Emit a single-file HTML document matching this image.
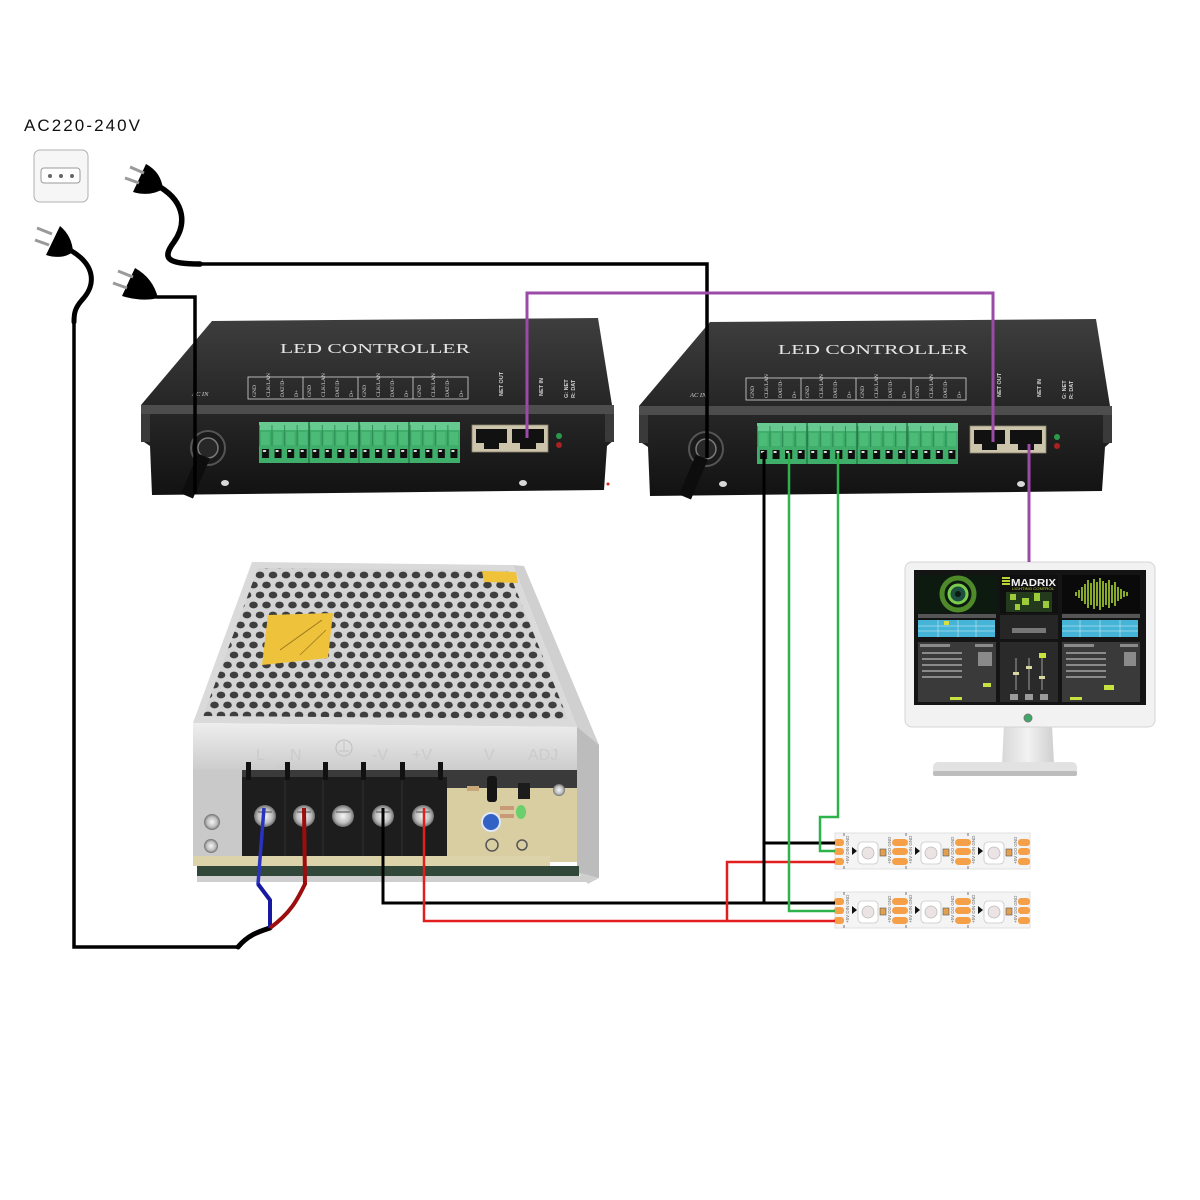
<!DOCTYPE html>
<html><head><meta charset="utf-8">
<style>html,body{margin:0;padding:0;background:#fff}svg{display:block}</style>
</head>
<body>
<svg width="1200" height="1200" viewBox="0 0 1200 1200" xmlns="http://www.w3.org/2000/svg">
<defs>
  <linearGradient id="topg" x1="0" y1="0" x2="0" y2="1"><stop offset="0" stop-color="#3e3e3e"/><stop offset="1" stop-color="#262626"/></linearGradient>
  <linearGradient id="frontg" x1="0" y1="0" x2="0" y2="1"><stop offset="0" stop-color="#262626"/><stop offset="1" stop-color="#121212"/></linearGradient>
  <pattern id="perf" width="13" height="20" patternUnits="userSpaceOnUse">
    <rect width="13" height="20" fill="#d4d4d4"/>
    <ellipse cx="6.5" cy="5" rx="4.3" ry="3.4" fill="#3e3e3e"/>
    <ellipse cx="0" cy="15" rx="4.3" ry="3.4" fill="#3e3e3e"/>
    <ellipse cx="13" cy="15" rx="4.3" ry="3.4" fill="#3e3e3e"/>
  </pattern>
  <pattern id="term" x="259" y="422" width="12.5625" height="41" patternUnits="userSpaceOnUse">
    <rect width="12.5625" height="41" fill="#3fae6a"/>
    <rect width="12.5625" height="8" fill="#66c98f"/>
    <line x1="0.4" y1="3" x2="0.4" y2="24" stroke="#2b8552" stroke-width="0.9"/>
    <rect x="2" y="10" width="8.5" height="13" fill="#4dbb78"/>
    <rect x="3" y="27" width="7" height="9" fill="#0e0e0e"/>
    <rect x="4" y="28" width="3" height="2" fill="#e0e0e0"/>
  </pattern>
  <linearGradient id="silver" x1="0" y1="0" x2="0" y2="1"><stop offset="0" stop-color="#eeeeee"/><stop offset="1" stop-color="#cacaca"/></linearGradient>
  <radialGradient id="screw"><stop offset="0" stop-color="#f6f6f6"/><stop offset="0.65" stop-color="#bdbdbd"/><stop offset="1" stop-color="#6e6e6e"/></radialGradient>
  <linearGradient id="neck" x1="0" y1="0" x2="1" y2="0"><stop offset="0" stop-color="#d8d8d8"/><stop offset="0.5" stop-color="#f2f2f2"/><stop offset="1" stop-color="#cfcfcf"/></linearGradient>
</defs>
<rect width="1200" height="1200" fill="#fff"/>

<!-- AC label and outlet -->
<text x="24" y="131" font-family="Liberation Sans, sans-serif" font-size="17" fill="#111" textLength="116" lengthAdjust="spacing">AC220-240V</text>
<rect x="34" y="150" width="54" height="52" rx="6" fill="#f6f6f6" stroke="#b0b0b0" stroke-width="1"/>
<rect x="41" y="168" width="39" height="15" rx="3" fill="#fff" stroke="#9a9a9a" stroke-width="1"/>
<circle cx="50" cy="176" r="2" fill="#666"/><circle cx="61" cy="176" r="2" fill="#666"/><circle cx="72" cy="176" r="2" fill="#666"/>

<!-- ================= POWER SUPPLY ================= -->
<g>
  <polygon points="513,565 524,566 599,745 599,878 588,884 577,872 577,727" fill="#d0d0d0"/>
  <polygon points="577,727 599,745 599,878 577,872" fill="#bcbcbc"/>
  <polygon points="252,562 513,565 577,727 193,723" fill="#dadada"/>
  <polygon points="258,568 508,570 568,719 203,716" fill="url(#perf)"/>
  <polygon points="268,615 333,613 328,658 262,665" fill="#efc23c"/>
  <line x1="280" y1="650" x2="322" y2="620" stroke="#9a7a20" stroke-width="1"/>
  <line x1="300" y1="655" x2="326" y2="630" stroke="#9a7a20" stroke-width="0.8"/>
  <polygon points="482,571 516,572 518,583 484,582" fill="#f0c23a"/>
  <!-- front face -->
  <polygon points="193,723 577,727 577,773 193,770" fill="url(#silver)"/>
  <g font-family="Liberation Sans, sans-serif" font-size="16" fill="#cbcbcb">
    <text x="256" y="760">L</text><text x="290" y="760">N</text>
    <text x="274" y="770" font-size="8">(AC)</text>
    <text x="372" y="760">-V</text><text x="412" y="760">+V</text>
    <text x="484" y="760">V</text><text x="528" y="760">ADJ</text>
  </g>
  <circle cx="344" cy="748" r="8" fill="none" stroke="#c4c4c4" stroke-width="1.3"/>
  <line x1="344" y1="741" x2="344" y2="750" stroke="#c4c4c4"/><line x1="339" y1="751" x2="349" y2="751" stroke="#c4c4c4"/>
  <!-- below front -->
  <rect x="193" y="770" width="384" height="92" fill="#3a3a3a"/>
  <polygon points="193,770 242,770 242,858 197,862 193,860" fill="#c9c9c9"/>
  <circle cx="212" cy="822" r="8" fill="url(#screw)"/>
  <circle cx="211" cy="846" r="7" fill="url(#screw)"/>
  <rect x="447" y="788" width="130" height="74" fill="#d8cea2"/>
  <rect x="487" y="776" width="10" height="26" rx="3" fill="#151515"/>
  <rect x="518" y="783" width="12" height="16" fill="#1c1c1c"/>
  <rect x="467" y="786" width="12" height="5" fill="#c8a878"/>
  <circle cx="491" cy="822" r="9" fill="#3262c4" stroke="#dfe6f6" stroke-width="2"/>
  <ellipse cx="521" cy="812" rx="5" ry="7" fill="#6bd06b"/>
  <rect x="500" y="806" width="14" height="4" fill="#c89a78"/>
  <rect x="500" y="814" width="14" height="4" fill="#c89a78"/>
  <circle cx="492" cy="845" r="6" fill="none" stroke="#555" stroke-width="1.5"/>
  <circle cx="522" cy="845" r="5" fill="none" stroke="#555" stroke-width="1.5"/>
  <circle cx="559" cy="790" r="6" fill="url(#screw)"/>
  <!-- terminal block -->
  <rect x="242" y="777" width="205" height="80" fill="#1d1d1d"/>
  <g fill="#111">
    <rect x="246" y="762" width="5" height="18"/><rect x="285" y="762" width="5" height="18"/>
    <rect x="323" y="762" width="5" height="18"/><rect x="361" y="762" width="5" height="18"/>
    <rect x="400" y="762" width="5" height="18"/><rect x="438" y="762" width="5" height="18"/>
  </g>
  <g stroke="#2e2e2e" stroke-width="1.2">
    <line x1="285" y1="780" x2="285" y2="857"/><line x1="323" y1="780" x2="323" y2="857"/>
    <line x1="363" y1="780" x2="363" y2="857"/><line x1="402" y1="780" x2="402" y2="857"/>
  </g>
  <g>
    <circle cx="265" cy="816" r="11" fill="url(#screw)"/><circle cx="304" cy="816" r="11" fill="url(#screw)"/>
    <circle cx="343" cy="816" r="11" fill="url(#screw)"/><circle cx="383" cy="816" r="11" fill="url(#screw)"/>
    <circle cx="423" cy="816" r="11" fill="url(#screw)"/>
  </g>
  <g stroke="#777" stroke-width="1.5">
    <line x1="258" y1="812" x2="272" y2="812"/><line x1="297" y1="812" x2="311" y2="812"/>
    <line x1="336" y1="812" x2="350" y2="812"/><line x1="376" y1="812" x2="390" y2="812"/>
    <line x1="416" y1="812" x2="430" y2="812"/>
  </g>
  <rect x="193" y="856" width="357" height="10" fill="#ddd3aa"/>
  <rect x="197" y="866" width="382" height="10" fill="#31473a"/>
  <rect x="197" y="876" width="392" height="6" fill="#cfcfcf"/>
</g>

<!-- ================= CONTROLLER 1 ================= -->
<g id="ctrl1">
  <polygon points="212,321 598,318 612,405 141,405" fill="url(#topg)"/>
  <polygon points="141,405 614,405 614,414 141,414" fill="#4d4d4d"/>
  <path d="M141,414 L614,414 L614,440 L607,446 L604,490 L152,495 L150,446 L141,440 Z" fill="url(#frontg)"/>
  <rect x="141" y="414" width="9" height="28" fill="#3a3a3a"/>
  <rect x="605" y="414" width="9" height="28" fill="#3a3a3a"/>
  <text x="280" y="353" font-family="Liberation Serif, serif" font-size="14" fill="#e6e6e6" textLength="190" lengthAdjust="spacingAndGlyphs">LED CONTROLLER</text>
  <rect x="248" y="377" width="220" height="22" fill="none" stroke="#d8d8d8" stroke-width="0.8"/>
  <g stroke="#d8d8d8" stroke-width="0.8"><line x1="303" y1="377" x2="303" y2="399"/><line x1="358" y1="377" x2="358" y2="399"/><line x1="413" y1="377" x2="413" y2="399"/></g>
  <g font-family="Liberation Serif, serif" font-size="5.5" fill="#dcdcdc">
    <text transform="translate(256,397) rotate(-90)">GND</text><text transform="translate(270,397) rotate(-90)">CLK/LAN</text><text transform="translate(284,397) rotate(-90)">DAT/D-</text><text transform="translate(298,397) rotate(-90)">D+</text>
    <text transform="translate(311,397) rotate(-90)">GND</text><text transform="translate(325,397) rotate(-90)">CLK/LAN</text><text transform="translate(339,397) rotate(-90)">DAT/D-</text><text transform="translate(353,397) rotate(-90)">D+</text>
    <text transform="translate(366,397) rotate(-90)">GND</text><text transform="translate(380,397) rotate(-90)">CLK/LAN</text><text transform="translate(394,397) rotate(-90)">DAT/D-</text><text transform="translate(408,397) rotate(-90)">D+</text>
    <text transform="translate(421,397) rotate(-90)">GND</text><text transform="translate(435,397) rotate(-90)">CLK/LAN</text><text transform="translate(449,397) rotate(-90)">DAT/D-</text><text transform="translate(463,397) rotate(-90)">D+</text>
  </g>
  <text x="192" y="396" font-family="Liberation Serif, serif" font-size="6.5" font-style="italic" fill="#cfcfcf">AC IN</text>
  <g font-family="Liberation Sans, sans-serif" font-size="5.5" font-weight="bold" fill="#d0d0d0">
    <text transform="translate(503,396) rotate(-90)">NET OUT</text>
    <text transform="translate(543,396) rotate(-90)">NET IN</text>
    <text transform="translate(568,398) rotate(-90)">G: NET</text>
    <text transform="translate(575,398) rotate(-90)">R: DAT</text>
  </g>
  <!-- terminal -->
  <rect x="259" y="422" width="201" height="41" fill="url(#term)"/>
  <g stroke="#257a48" stroke-width="1.5"><line x1="309" y1="422" x2="309" y2="463"/><line x1="359" y1="422" x2="359" y2="463"/><line x1="409" y1="422" x2="409" y2="463"/></g>
  <!-- RJ45 -->
  <rect x="472" y="425" width="76" height="27" fill="#cdc4ac" stroke="#8a826e" stroke-width="0.8"/>
  <path d="M476,429 H507 V443 H499 V449 H484 V443 H476 Z" fill="#111"/>
  <path d="M512,429 H544 V443 H536 V449 H520 V443 H512 Z" fill="#111"/>
  <circle cx="559" cy="436" r="3" fill="#2a9a4a"/>
  <circle cx="559" cy="445" r="3" fill="#a82222"/>
  <!-- gland -->
  <circle cx="208" cy="448" r="17" fill="#1a1a1a" stroke="#555" stroke-width="2"/>
  <circle cx="208" cy="448" r="10" fill="#272727" stroke="#7a7a7a" stroke-width="1.5"/>
  <line x1="204" y1="456" x2="187" y2="496" stroke="#0d0d0d" stroke-width="13"/>
  <ellipse cx="225" cy="483" rx="4" ry="3" fill="#d8d8d8"/>
  <ellipse cx="523" cy="483" rx="4" ry="3" fill="#d8d8d8"/>
</g>
<circle cx="608" cy="484" r="1.5" fill="#d22"/>

<!-- ================= CONTROLLER 2 ================= -->
<g transform="translate(498,1)">
  <polygon points="212,321 598,318 612,405 141,405" fill="url(#topg)"/>
  <polygon points="141,405 614,405 614,414 141,414" fill="#4d4d4d"/>
  <path d="M141,414 L614,414 L614,440 L607,446 L604,490 L152,495 L150,446 L141,440 Z" fill="url(#frontg)"/>
  <rect x="141" y="414" width="9" height="28" fill="#3a3a3a"/>
  <rect x="605" y="414" width="9" height="28" fill="#3a3a3a"/>
  <text x="280" y="353" font-family="Liberation Serif, serif" font-size="14" fill="#e6e6e6" textLength="190" lengthAdjust="spacingAndGlyphs">LED CONTROLLER</text>
  <rect x="248" y="377" width="220" height="22" fill="none" stroke="#d8d8d8" stroke-width="0.8"/>
  <g stroke="#d8d8d8" stroke-width="0.8"><line x1="303" y1="377" x2="303" y2="399"/><line x1="358" y1="377" x2="358" y2="399"/><line x1="413" y1="377" x2="413" y2="399"/></g>
  <g font-family="Liberation Serif, serif" font-size="5.5" fill="#dcdcdc">
    <text transform="translate(256,397) rotate(-90)">GND</text><text transform="translate(270,397) rotate(-90)">CLK/LAN</text><text transform="translate(284,397) rotate(-90)">DAT/D-</text><text transform="translate(298,397) rotate(-90)">D+</text>
    <text transform="translate(311,397) rotate(-90)">GND</text><text transform="translate(325,397) rotate(-90)">CLK/LAN</text><text transform="translate(339,397) rotate(-90)">DAT/D-</text><text transform="translate(353,397) rotate(-90)">D+</text>
    <text transform="translate(366,397) rotate(-90)">GND</text><text transform="translate(380,397) rotate(-90)">CLK/LAN</text><text transform="translate(394,397) rotate(-90)">DAT/D-</text><text transform="translate(408,397) rotate(-90)">D+</text>
    <text transform="translate(421,397) rotate(-90)">GND</text><text transform="translate(435,397) rotate(-90)">CLK/LAN</text><text transform="translate(449,397) rotate(-90)">DAT/D-</text><text transform="translate(463,397) rotate(-90)">D+</text>
  </g>
  <text x="192" y="396" font-family="Liberation Serif, serif" font-size="6.5" font-style="italic" fill="#cfcfcf">AC IN</text>
  <g font-family="Liberation Sans, sans-serif" font-size="5.5" font-weight="bold" fill="#d0d0d0">
    <text transform="translate(503,396) rotate(-90)">NET OUT</text>
    <text transform="translate(543,396) rotate(-90)">NET IN</text>
    <text transform="translate(568,398) rotate(-90)">G: NET</text>
    <text transform="translate(575,398) rotate(-90)">R: DAT</text>
  </g>
  <rect x="259" y="422" width="201" height="41" fill="url(#term)"/>
  <g stroke="#257a48" stroke-width="1.5"><line x1="309" y1="422" x2="309" y2="463"/><line x1="359" y1="422" x2="359" y2="463"/><line x1="409" y1="422" x2="409" y2="463"/></g>
  <rect x="472" y="425" width="76" height="27" fill="#cdc4ac" stroke="#8a826e" stroke-width="0.8"/>
  <path d="M476,429 H507 V443 H499 V449 H484 V443 H476 Z" fill="#111"/>
  <path d="M512,429 H544 V443 H536 V449 H520 V443 H512 Z" fill="#111"/>
  <circle cx="559" cy="436" r="3" fill="#2a9a4a"/>
  <circle cx="559" cy="445" r="3" fill="#a82222"/>
  <circle cx="208" cy="448" r="17" fill="#1a1a1a" stroke="#555" stroke-width="2"/>
  <circle cx="208" cy="448" r="10" fill="#272727" stroke="#7a7a7a" stroke-width="1.5"/>
  <line x1="204" y1="456" x2="187" y2="496" stroke="#0d0d0d" stroke-width="13"/>
  <ellipse cx="225" cy="483" rx="4" ry="3" fill="#d8d8d8"/>
  <ellipse cx="523" cy="483" rx="4" ry="3" fill="#d8d8d8"/>
</g>

<!-- ================= MONITOR ================= -->
<g>
  <polygon points="1004,725 1052,725 1054,764 1002,764" fill="url(#neck)"/>
  <rect x="933" y="762" width="144" height="14" rx="5" fill="#e2e2e2"/>
  <rect x="933" y="771" width="144" height="5" rx="2" fill="#bdbdbd"/>
  <rect x="905" y="562" width="250" height="165" rx="7" fill="#f2f2f2" stroke="#d4d4d4" stroke-width="1"/>
  <rect x="914" y="570" width="232" height="135" fill="#141414"/>
  <circle cx="1028" cy="718" r="4" fill="#3caa66" stroke="#777" stroke-width="1"/>
  <rect x="918" y="575" width="80" height="38" fill="#0c1a10"/>
  <circle cx="958" cy="594" r="16" fill="none" stroke="#4f8a2a" stroke-width="5"/>
  <circle cx="958" cy="594" r="9" fill="#1b5040" stroke="#7ccc4c" stroke-width="3"/>
  <circle cx="958" cy="594" r="3" fill="#0c1a10"/>
  <rect x="1000" y="575" width="58" height="38" fill="#101010"/>
  <g fill="#b8d430"><rect x="1002" y="577" width="8" height="2"/><rect x="1002" y="580" width="8" height="2"/><rect x="1002" y="583" width="8" height="2"/></g>
  <text x="1011" y="586" font-family="Liberation Sans, sans-serif" font-size="10" font-weight="bold" fill="#f2f2f2" textLength="45" lengthAdjust="spacingAndGlyphs">MADRIX</text>
  <text x="1012" y="590" font-family="Liberation Sans, sans-serif" font-size="3.5" fill="#b8d430" textLength="42" lengthAdjust="spacingAndGlyphs">LIGHTING CONTROL</text>
  <rect x="1006" y="592" width="46" height="20" fill="#243a1c"/>
  <g fill="#9ccc3a"><rect x="1010" y="594" width="6" height="6"/><rect x="1022" y="598" width="7" height="7"/><rect x="1034" y="593" width="6" height="8"/><rect x="1043" y="601" width="6" height="7"/><rect x="1015" y="604" width="5" height="6"/></g>
  <rect x="1062" y="575" width="78" height="38" fill="#0a0a0a"/>
  <g stroke="#a9d22f" stroke-width="1.6">
    <line x1="1076" y1="592" x2="1076" y2="596"/><line x1="1079" y1="590" x2="1079" y2="598"/><line x1="1082" y1="587" x2="1082" y2="601"/>
    <line x1="1085" y1="584" x2="1085" y2="604"/><line x1="1088" y1="580" x2="1088" y2="608"/><line x1="1091" y1="583" x2="1091" y2="605"/>
    <line x1="1094" y1="579" x2="1094" y2="609"/><line x1="1097" y1="582" x2="1097" y2="606"/><line x1="1100" y1="578" x2="1100" y2="610"/>
    <line x1="1103" y1="581" x2="1103" y2="607"/><line x1="1106" y1="583" x2="1106" y2="605"/><line x1="1109" y1="580" x2="1109" y2="608"/>
    <line x1="1112" y1="585" x2="1112" y2="603"/><line x1="1115" y1="582" x2="1115" y2="606"/><line x1="1118" y1="587" x2="1118" y2="601"/>
    <line x1="1121" y1="589" x2="1121" y2="599"/><line x1="1124" y1="591" x2="1124" y2="597"/><line x1="1127" y1="592" x2="1127" y2="596"/>
  </g>
  <rect x="918" y="614" width="78" height="4" fill="#555"/>
  <rect x="1062" y="614" width="78" height="4" fill="#555"/>
  <rect x="918" y="620" width="77" height="17" fill="#45b4d6"/>
  <rect x="1062" y="620" width="76" height="17" fill="#45b4d6"/>
  <g stroke="#dff2fa" stroke-width="0.5">
    <line x1="918" y1="626" x2="995" y2="626"/><line x1="918" y1="631" x2="995" y2="631"/>
    <line x1="1062" y1="626" x2="1138" y2="626"/><line x1="1062" y1="631" x2="1138" y2="631"/>
    <line x1="938" y1="620" x2="938" y2="637"/><line x1="958" y1="620" x2="958" y2="637"/><line x1="976" y1="620" x2="976" y2="637"/>
    <line x1="1080" y1="620" x2="1080" y2="637"/><line x1="1100" y1="620" x2="1100" y2="637"/><line x1="1120" y1="620" x2="1120" y2="637"/>
  </g>
  <rect x="944" y="621" width="5" height="4" fill="#d8e040"/>
  <rect x="1000" y="615" width="58" height="24" fill="#262626"/>
  <rect x="1012" y="628" width="34" height="5" fill="#777"/>
  <rect x="918" y="642" width="78" height="60" fill="#3a3a3a"/>
  <rect x="1000" y="642" width="58" height="60" fill="#2a2a2a"/>
  <rect x="1062" y="642" width="78" height="60" fill="#3a3a3a"/>
  <g fill="#8a8a8a">
    <rect x="920" y="644" width="30" height="3"/><rect x="975" y="644" width="18" height="3"/>
    <rect x="1064" y="644" width="30" height="3"/><rect x="1120" y="644" width="18" height="3"/>
    <rect x="922" y="652" width="40" height="2"/><rect x="922" y="658" width="40" height="2"/><rect x="922" y="664" width="40" height="2"/>
    <rect x="922" y="670" width="40" height="2"/><rect x="922" y="676" width="40" height="2"/>
    <rect x="1066" y="652" width="40" height="2"/><rect x="1066" y="658" width="40" height="2"/><rect x="1066" y="664" width="40" height="2"/>
    <rect x="1066" y="670" width="40" height="2"/><rect x="1066" y="676" width="40" height="2"/>
    <rect x="978" y="652" width="14" height="14"/><rect x="1124" y="652" width="12" height="14"/>
  </g>
  <g fill="#c8e040"><rect x="1039" y="653" width="7" height="5"/><rect x="983" y="683" width="8" height="4"/><rect x="1104" y="685" width="10" height="5"/><rect x="950" y="697" width="12" height="3"/><rect x="1070" y="697" width="12" height="3"/></g>
  <g stroke="#777" stroke-width="1.5"><line x1="1016" y1="658" x2="1016" y2="690"/><line x1="1029" y1="658" x2="1029" y2="690"/><line x1="1042" y1="658" x2="1042" y2="690"/></g>
  <g fill="#d8d8a0"><rect x="1013" y="672" width="6" height="3"/><rect x="1026" y="666" width="6" height="3"/><rect x="1039" y="676" width="6" height="3"/></g>
  <g fill="#9a9a9a"><rect x="1010" y="694" width="8" height="6"/><rect x="1025" y="694" width="8" height="6"/><rect x="1040" y="694" width="8" height="6"/></g>
</g>

<!-- ================= LED STRIPS ================= -->
<g id="strip1">
  <rect x="835" y="833" width="195" height="36" fill="#f4f4f4" stroke="#e0e0e0" stroke-width="1"/>
  <g fill="#f5a048">
    <rect x="834" y="839" width="10" height="7" rx="3"/><rect x="834" y="848" width="10" height="7" rx="3"/><rect x="834" y="858" width="10" height="7" rx="3"/>
    <rect x="892" y="839" width="16" height="7" rx="3.5"/><rect x="892" y="848" width="16" height="7" rx="3.5"/><rect x="892" y="858" width="16" height="7" rx="3.5"/>
    <rect x="955" y="839" width="16" height="7" rx="3.5"/><rect x="955" y="848" width="16" height="7" rx="3.5"/><rect x="955" y="858" width="16" height="7" rx="3.5"/>
    <rect x="1018" y="839" width="12" height="7" rx="3"/><rect x="1018" y="848" width="12" height="7" rx="3"/><rect x="1018" y="858" width="12" height="7" rx="3"/>
  </g>
  <g fill="#111">
    <polygon points="852,847 857,851 852,855"/><polygon points="915,847 920,851 915,855"/><polygon points="978,847 983,851 978,855"/>
  </g>
  <g fill="#fff" stroke="#c8c8c8" stroke-width="0.8">
    <rect x="858" y="842" width="20" height="22" rx="4"/><rect x="921" y="842" width="20" height="22" rx="4"/><rect x="984" y="842" width="20" height="22" rx="4"/>
  </g>
  <g fill="#ece4e4" stroke="#bbb" stroke-width="0.8">
    <circle cx="868" cy="853" r="6"/><circle cx="931" cy="853" r="6"/><circle cx="994" cy="853" r="6"/>
  </g>
  <g fill="#e0a050" stroke="#555" stroke-width="0.6">
    <rect x="880" y="849" width="6" height="7"/><rect x="943" y="849" width="6" height="7"/><rect x="1006" y="849" width="6" height="7"/>
  </g>
  <g font-family="Liberation Sans, sans-serif" font-size="4.5" fill="#666">
    <text transform="translate(849,864) rotate(-90)">+5V DIN GND</text>
    <text transform="translate(891,864) rotate(-90)">+5V DO GND</text>
    <text transform="translate(912,864) rotate(-90)">+5V DIN GND</text>
    <text transform="translate(954,864) rotate(-90)">+5V DO GND</text>
    <text transform="translate(975,864) rotate(-90)">+5V DIN GND</text>
    <text transform="translate(1017,864) rotate(-90)">+5V DO GND</text>
  </g>
  <g stroke="#555" stroke-width="0.8">
    <line x1="844" y1="833" x2="844" y2="836"/><line x1="906" y1="833" x2="906" y2="836"/><line x1="968" y1="833" x2="968" y2="836"/>
    <line x1="844" y1="866" x2="844" y2="869"/><line x1="906" y1="866" x2="906" y2="869"/><line x1="968" y1="866" x2="968" y2="869"/>
  </g>
</g>
<g transform="translate(0,59)">
  <rect x="835" y="833" width="195" height="36" fill="#f4f4f4" stroke="#e0e0e0" stroke-width="1"/>
  <g fill="#f5a048">
    <rect x="834" y="839" width="10" height="7" rx="3"/><rect x="834" y="848" width="10" height="7" rx="3"/><rect x="834" y="858" width="10" height="7" rx="3"/>
    <rect x="892" y="839" width="16" height="7" rx="3.5"/><rect x="892" y="848" width="16" height="7" rx="3.5"/><rect x="892" y="858" width="16" height="7" rx="3.5"/>
    <rect x="955" y="839" width="16" height="7" rx="3.5"/><rect x="955" y="848" width="16" height="7" rx="3.5"/><rect x="955" y="858" width="16" height="7" rx="3.5"/>
    <rect x="1018" y="839" width="12" height="7" rx="3"/><rect x="1018" y="848" width="12" height="7" rx="3"/><rect x="1018" y="858" width="12" height="7" rx="3"/>
  </g>
  <g fill="#111">
    <polygon points="852,847 857,851 852,855"/><polygon points="915,847 920,851 915,855"/><polygon points="978,847 983,851 978,855"/>
  </g>
  <g fill="#fff" stroke="#c8c8c8" stroke-width="0.8">
    <rect x="858" y="842" width="20" height="22" rx="4"/><rect x="921" y="842" width="20" height="22" rx="4"/><rect x="984" y="842" width="20" height="22" rx="4"/>
  </g>
  <g fill="#ece4e4" stroke="#bbb" stroke-width="0.8">
    <circle cx="868" cy="853" r="6"/><circle cx="931" cy="853" r="6"/><circle cx="994" cy="853" r="6"/>
  </g>
  <g fill="#e0a050" stroke="#555" stroke-width="0.6">
    <rect x="880" y="849" width="6" height="7"/><rect x="943" y="849" width="6" height="7"/><rect x="1006" y="849" width="6" height="7"/>
  </g>
  <g font-family="Liberation Sans, sans-serif" font-size="4.5" fill="#666">
    <text transform="translate(849,864) rotate(-90)">+5V DIN GND</text>
    <text transform="translate(891,864) rotate(-90)">+5V DO GND</text>
    <text transform="translate(912,864) rotate(-90)">+5V DIN GND</text>
    <text transform="translate(954,864) rotate(-90)">+5V DO GND</text>
    <text transform="translate(975,864) rotate(-90)">+5V DIN GND</text>
    <text transform="translate(1017,864) rotate(-90)">+5V DO GND</text>
  </g>
  <g stroke="#555" stroke-width="0.8">
    <line x1="844" y1="833" x2="844" y2="836"/><line x1="906" y1="833" x2="906" y2="836"/><line x1="968" y1="833" x2="968" y2="836"/>
    <line x1="844" y1="866" x2="844" y2="869"/><line x1="906" y1="866" x2="906" y2="869"/><line x1="968" y1="866" x2="968" y2="869"/>
  </g>
</g>

<!-- ================= WIRES ================= -->
<path d="M160,187 C186,203 186,225 174,242 C162,258 166,264 200,264" fill="none" stroke="#000" stroke-width="5.5" stroke-linecap="round"/>
<polyline points="198,264 707,264 707,458" fill="none" stroke="#000" stroke-width="3.5"/>
<polyline points="156,297 195,297 195,494" fill="none" stroke="#000" stroke-width="3.5"/>
<path d="M70,250 C96,265 96,285 82,300 C75,308 74,313 74,322" fill="none" stroke="#000" stroke-width="5" stroke-linecap="round"/>
<polyline points="74,320 74,947 240,947" fill="none" stroke="#000" stroke-width="3.5"/>
<path d="M238,947 C248,935 258,932 270,928" fill="none" stroke="#000" stroke-width="5" stroke-linecap="round"/>
<path d="M146,164 L133,192 Q150,197 163,189 Q161,172 146,164 Z" fill="#000"/>
<path d="M60,226 L46,255 Q62,260 73,252 Q72,236 60,226 Z" fill="#000"/>
<path d="M135,268 L122,296 Q142,302 158,298 Q153,278 135,268 Z" fill="#000"/>
<g stroke="#9a9a9a" stroke-width="3">
  <line x1="130" y1="167" x2="144" y2="173"/><line x1="125" y1="178" x2="139" y2="183"/>
  <line x1="37" y1="228" x2="52" y2="234"/><line x1="35" y1="240" x2="49" y2="245"/>
  <line x1="118" y1="271" x2="133" y2="277"/><line x1="113" y1="283" x2="127" y2="288"/>
</g>
<polyline points="264,808 258,884 270,900 270,928" fill="none" stroke="#2a33c0" stroke-width="3.5" stroke-linejoin="round"/>
<polyline points="258,884 270,900 270,928" fill="none" stroke="#1818a0" stroke-width="4" stroke-linejoin="round"/>
<path d="M304,808 L305,884 C298,898 292,912 270,928" fill="none" stroke="#9c0d0d" stroke-width="4"/>
<polyline points="383,808 383,903 835,903" fill="none" stroke="#000" stroke-width="3"/>
<polyline points="424,808 424,921 835,921" fill="none" stroke="#e11f1f" stroke-width="2.5"/>
<polyline points="727,921 727,862 835,862" fill="none" stroke="#e11f1f" stroke-width="2.5"/>
<polyline points="764,452 764,903" fill="none" stroke="#000" stroke-width="3"/>
<polyline points="764,843 835,843" fill="none" stroke="#000" stroke-width="3"/>
<polyline points="789,453 789,911 835,911" fill="none" stroke="#2db34a" stroke-width="2.5"/>
<polyline points="838,453 838,817 820,817 820,851 835,851" fill="none" stroke="#2db34a" stroke-width="2.5"/>
<polyline points="527,438 527,293 993,293 993,442" fill="none" stroke="#9c4aa8" stroke-width="3"/>
<polyline points="1029,444 1029,562" fill="none" stroke="#9c4aa8" stroke-width="3"/>
</svg>
</body></html>
